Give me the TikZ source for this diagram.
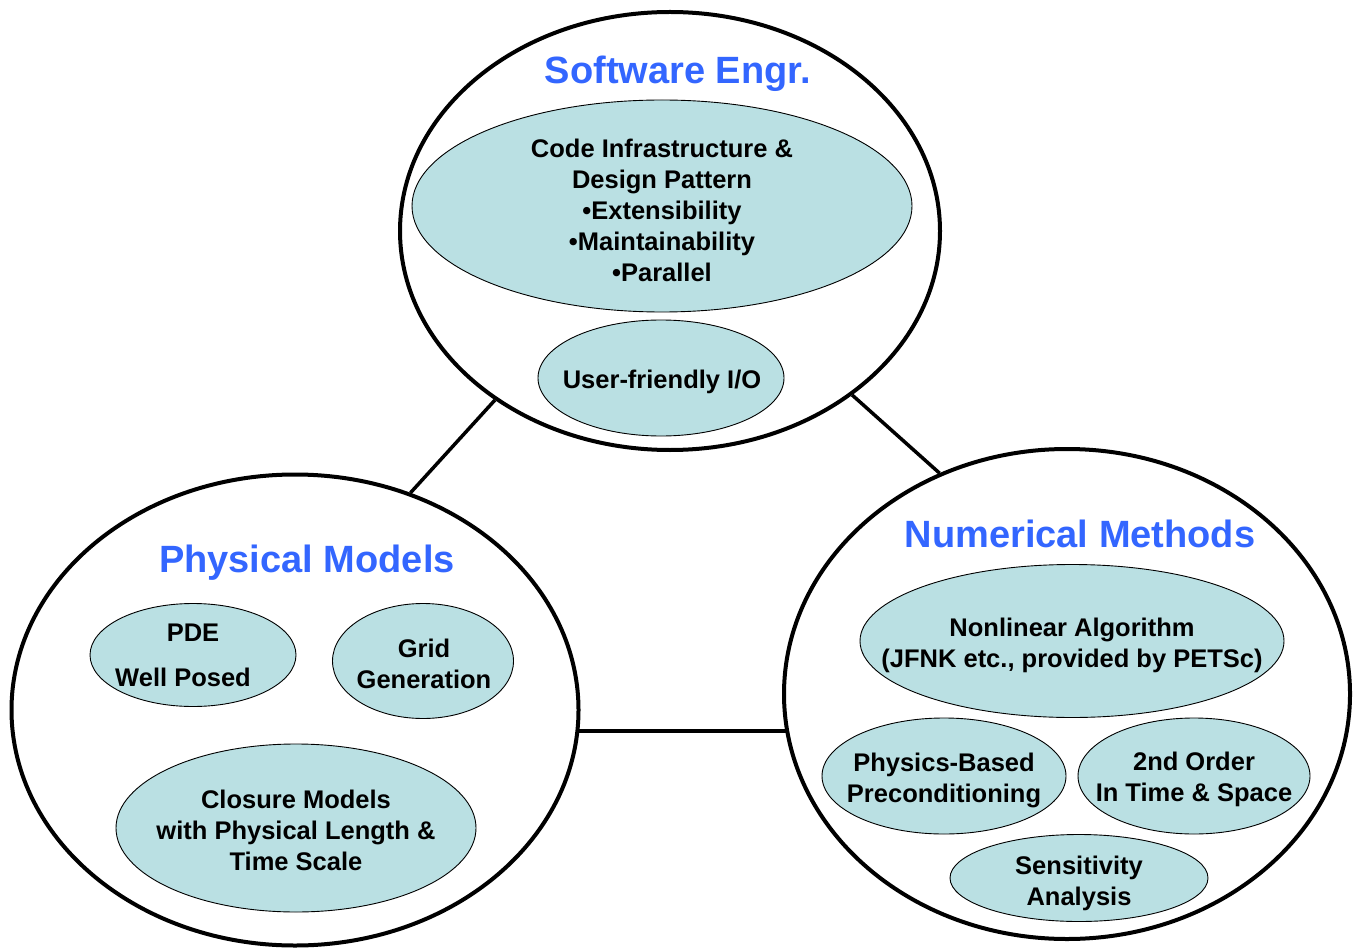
\documentclass[tikz,border=0pt]{standalone}
\usepackage{fontspec}
\setmainfont{Liberation Sans}
\usetikzlibrary{shapes.geometric,backgrounds}
\definecolor{bubblefill}{RGB}{186,224,227}
\definecolor{titleblue}{RGB}{51,102,255}
\begin{document}
\begin{tikzpicture}[x=1pt,y=-1pt,
  areabox/.style={ellipse,draw,line width=4pt,fill=white,inner sep=0pt},
  bubble/.style={ellipse,draw,line width=0.9pt,fill=bubblefill,inner sep=0pt},
  txt/.style={font=\bfseries\fontsize{25.5}{31}\selectfont,align=center,inner sep=0pt},
  heading/.style={font=\bfseries\fontsize{38}{46}\selectfont,text=titleblue,inner sep=0pt,anchor=base},
  link/.style={line width=3.5pt}]
\useasboundingbox (0,0) rectangle (1356,949);

% the three areas
\node[areabox,minimum width=540pt,minimum height=438pt] (soft) at (670,231) {};
\node[areabox,minimum width=567pt,minimum height=471pt] (phys) at (295,710) {};
\node[areabox,minimum width=566pt,minimum height=490pt] (num) at (1067,694) {};

% links between the areas
\draw[link] (phys.62) -- (soft.224);
\draw[link] (soft.318) -- (num.120);
% the horizontal link runs behind the white areas, so only the gap shows
\begin{pgfonlayer}{background}
  \draw[link] ([yshift=-21pt]phys.center) -- ([yshift=-21pt]phys.center -| num.center);
\end{pgfonlayer}

% headings
\node[heading] (softT) at (678,84) {Software Engr.};
\node[heading] (physT) at (307,572) {Physical Models};
\node[heading] (numT) at (1080,547) {Numerical Methods};

% Software Engr.
\node[bubble,minimum width=500pt,minimum height=212pt] (code) at (662,206) {};
\node[txt] (codeT) at (662,210) {Code Infrastructure \&\\Design Pattern\\\textbullet Extensibility\\\textbullet Maintainability\\\textbullet Parallel};
\node[bubble,minimum width=246pt,minimum height=116pt] (io) at (661,378) {};
\node[txt] (ioT) at (662,381.5) {User-friendly I/O};

% Physical Models
\node[bubble,minimum width=206pt,minimum height=103pt] (pde) at (193,655) {};
\node[txt] (pdeA) at (193,633) {PDE};
\node[txt] (pdeB) at (183,677) {Well Posed};
\node[bubble,minimum width=181pt,minimum height=115pt] (grid) at (423,661) {};
\node[txt] (gridT) at (424,664) {Grid\\Generation};
\node[bubble,minimum width=360pt,minimum height=168pt] (clos) at (296,828) {};
\node[txt] (closT) at (296,830) {Closure Models\\with Physical Length \&\\Time Scale};

% Numerical Methods
\node[bubble,minimum width=424pt,minimum height=153pt] (nl) at (1072,641) {};
\node[txt] (nlT) at (1072,645.5) {Nonlinear Algorithm\\(JFNK etc., provided by PETSc)};
\node[bubble,minimum width=244pt,minimum height=116pt] (pbp) at (944,776) {};
\node[txt] (pbpT) at (944,780.5) {Physics-Based\\Preconditioning};
\node[bubble,minimum width=232pt,minimum height=116pt] (ord) at (1194,776) {};
\node[txt] (ordT) at (1194,779.5) {2nd Order\\In Time \& Space};
\node[bubble,minimum width=258pt,minimum height=87pt] (sens) at (1079,878) {};
\node[txt] (sensT) at (1079,883.5) {Sensitivity\\Analysis};
\end{tikzpicture}
\end{document}
